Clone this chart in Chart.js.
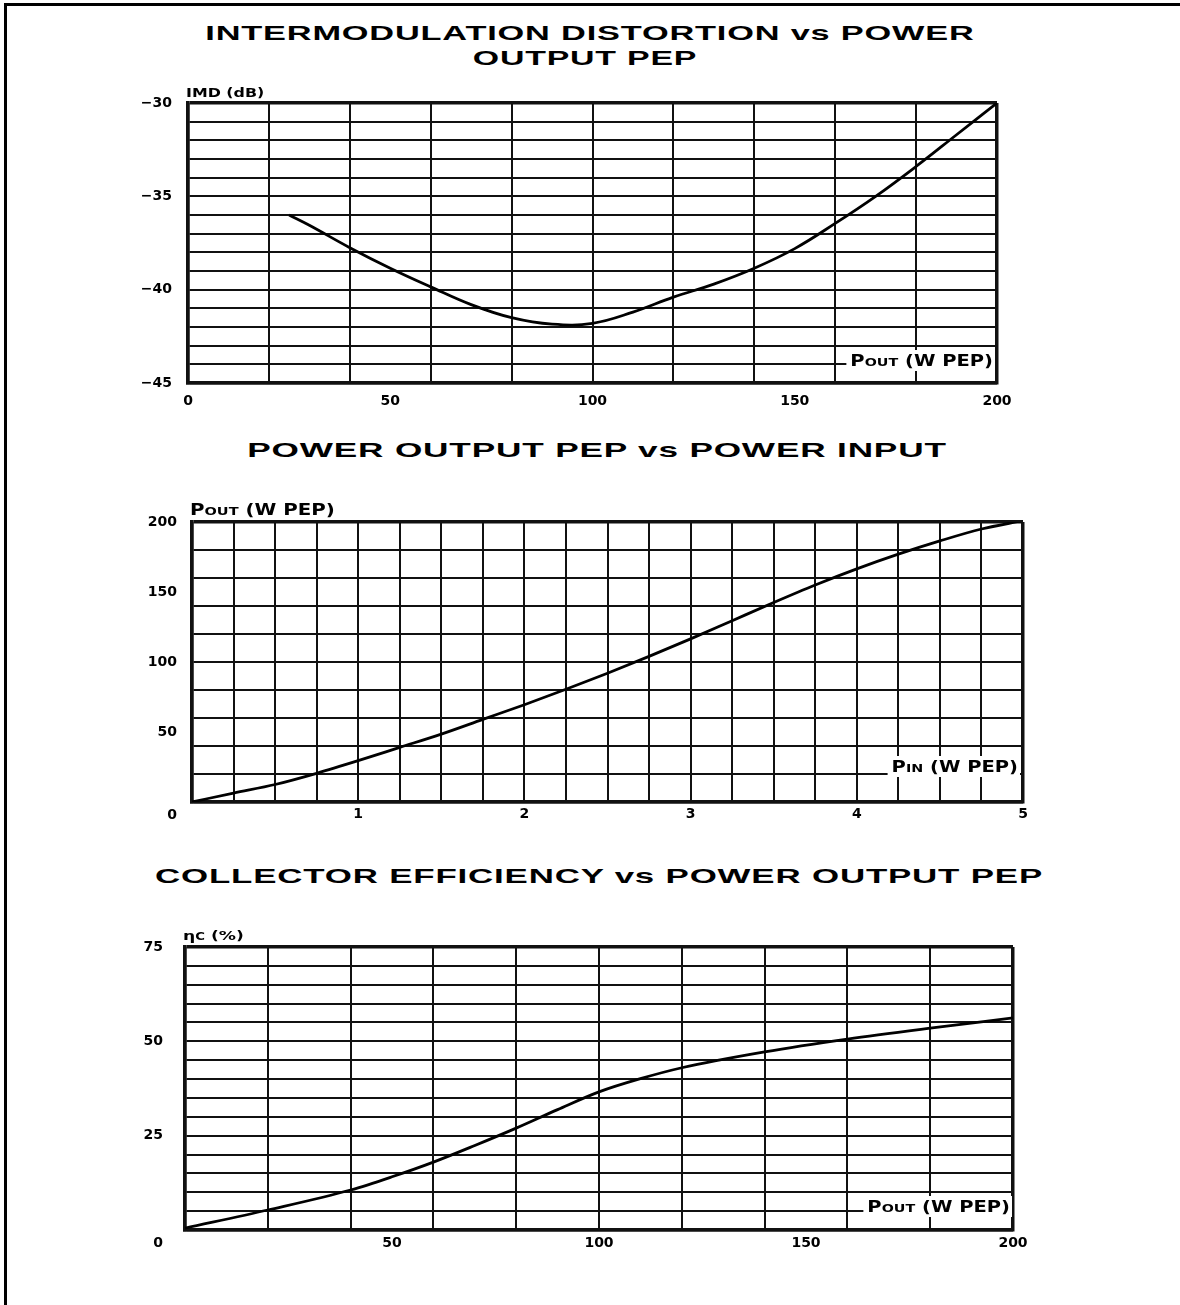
<!DOCTYPE html>
<html lang="en">
<head>
  <meta charset="UTF-8">
  <title>IMD, Power Output and Collector Efficiency</title>
  <script src="https://cdn.jsdelivr.net/npm/chart.js"></script>
  <style>
    html, body { margin: 0; padding: 0; background: #fff; overflow: hidden; }
    #sheet { position: relative; width: 1180px; height: 1305px; }
    #frame { position: absolute; left: 4px; top: 3px; width: 1300px; height: 1400px;
             border-top: 3px solid #000; border-left: 3px solid #000; }
    .title { position: absolute; white-space: nowrap; line-height: 1;
             font: bold 21px "Liberation Sans", Arial, sans-serif; letter-spacing: 0.5px; color: #000; }
    canvas { position: absolute; left: 0; }
  </style>
</head>
<body>
<div id="sheet">
  <div id="frame"></div>
  <canvas id="imdChart" width="1180" height="345" style="top:70px"></canvas>
  <canvas id="poutChart" width="1180" height="360" style="top:470px"></canvas>
  <canvas id="effChart" width="1180" height="370" style="top:895px"></canvas>
</div>

<script>
  // --- values ---
  const imdPout = [25, 30, 40, 50, 60, 70, 80, 90, 100, 110, 120, 130, 140, 150, 160, 170, 180, 190, 200];
  const imdDb = [-36.0, -36.55, -37.75, -38.85, -39.85, -40.8, -41.5, -41.85, -41.8, -41.2, -40.4, -39.7, -38.85, -37.8, -36.45, -35.0, -33.4, -31.7, -30.0];

  const pinW = [0, 0.25, 0.5, 0.75, 1, 1.25, 1.5, 1.75, 2, 2.25, 2.5, 2.75, 3, 3.25, 3.5, 3.75, 4, 4.25, 4.5, 4.75, 5];
  const poutW = [0, 6.4, 12.5, 20.5, 29.5, 39, 48.5, 59, 69.5, 80.5, 92, 104, 116.5, 129.5, 142.5, 155, 166.5, 177, 186.5, 195, 201];

  const effPout = [0, 20, 40, 50, 60, 70, 80, 90, 100, 110, 120, 140, 160, 180, 200];
  const effPct = [0.5, 5.3, 10.6, 14.1, 18, 22.4, 27, 31.9, 36.6, 40.1, 43, 47.2, 50.6, 53.5, 56.2];

  // tick labels
  const imdXLabels = [0, 50, 100, 150, 200];
  const imdYLabels = [-30, -35, -40, -45];
  const pinXLabels = [1, 2, 3, 4, 5];
  const poutYLabels = [50, 100, 150, 200];
  const effXLabels = [50, 100, 150, 200];
  const effYLabels = [25, 50, 75];

  const chartTitles = [
    'INTERMODULATION DISTORTION vs POWER',
    'OUTPUT PEP',
    'POWER OUTPUT PEP vs POWER INPUT',
    'COLLECTOR EFFICIENCY vs POWER OUTPUT PEP'
  ];

  // title placement (centre x, centre y, printed width)
  const titleBoxes = [[590, 33, 770], [585, 58, 224], [597, 450, 700], [599, 876, 888]];
  chartTitles.forEach((t, i) => {
    const d = document.createElement('div');
    d.className = 'title';
    d.textContent = t;
    document.getElementById('sheet').appendChild(d);
    const [cx, cy, w] = titleBoxes[i];
    const sx = w / d.offsetWidth;
    d.style.left = cx + 'px';
    d.style.top = cy + 'px';
    d.style.transform = `translate(-50%, -50%) scaleX(${sx})`;
  });

  const tickFont = { family: '"DejaVu Sans", sans-serif', size: 14, weight: 'bold' };

  function steps(min, max, step) {
    const out = [];
    for (let v = min; v <= max + 1e-9; v += step) out.push(+v.toFixed(4));
    return out;
  }

  function makeScale(axisId, o) {
    const grid = steps(o.min, o.max, o.step);
    const all = Array.from(new Set([...grid, ...o.labels])).sort((a, b) => a - b);
    return {
      type: 'linear',
      min: o.min,
      max: o.max,
      afterBuildTicks: s => { s.ticks = all.map(v => ({ value: v })); },
      afterFit: s => { if (axisId === 'x') s.height = o.size; else s.width = o.size; },
      ticks: {
        autoSkip: false,
        maxRotation: 0,
        padding: o.pad,
        color: '#000',
        font: tickFont,
        callback: v => o.labels.includes(v) ? (o.fmt ? o.fmt(v) : String(v)) : ''
      },
      grid: {
        drawTicks: false,
        color: c => (c.tick && grid.includes(c.tick.value)) ? '#111' : 'rgba(0,0,0,0)',
        lineWidth: c => (c.tick && (c.tick.value === o.min || c.tick.value === o.max)) ? 3.5 : 2
      },
      border: { display: true, color: '#111', width: 3.5 }
    };
  }

  function drawParts(ctx, parts, x, y, sx, align) {
    ctx.save();
    let total = 0;
    parts.forEach(p => {
      ctx.font = `bold ${p[1]}px "DejaVu Sans", sans-serif`;
      total += ctx.measureText(p[0]).width;
    });
    ctx.translate(x, y);
    ctx.scale(sx, 1);
    ctx.fillStyle = '#000';
    ctx.textBaseline = 'alphabetic';
    ctx.textAlign = 'left';
    let cur = align === 'right' ? -total : 0;
    parts.forEach(p => {
      ctx.font = `bold ${p[1]}px "DejaVu Sans", sans-serif`;
      ctx.fillText(p[0], cur, 0);
      cur += ctx.measureText(p[0]).width;
    });
    ctx.restore();
    return total * sx;
  }

  // axis captions, the boxed x caption inside the grid and the shared corner "0"
  const sheetLabels = {
    id: 'sheetLabels',
    afterDraw(chart, args, opts) {
      const { ctx, chartArea: a } = chart;
      if (opts.yTitle) drawParts(ctx, opts.yTitle, a.left - 2, a.top - opts.yGap, 1.32, 'left');
      if (opts.xTitle) {
        ctx.save();
        let w = 0;
        opts.xTitle.forEach(p => {
          ctx.font = `bold ${p[1]}px "DejaVu Sans", sans-serif`;
          w += ctx.measureText(p[0]).width;
        });
        w *= 1.3;
        const right = a.right - opts.xInset;
        const base = a.bottom - opts.xRaise;
        ctx.fillStyle = '#fff';
        ctx.fillRect(right - w - 4, base - 16, w + 6, 21);
        ctx.restore();
        drawParts(ctx, opts.xTitle, right, base, 1.3, 'right');
      }
      if (opts.corner) {
        ctx.save();
        ctx.font = `bold 14px "DejaVu Sans", sans-serif`;
        ctx.fillStyle = '#000';
        ctx.textAlign = 'right';
        ctx.textBaseline = 'middle';
        ctx.fillText('0', a.left - opts.corner[0], a.bottom + opts.corner[1]);
        ctx.restore();
      }
    }
  };

  function curve(xs, ys, smooth) {
    const ds = {
      data: xs.map((x, i) => ({ x: x, y: ys[i] })),
      borderColor: '#000',
      borderWidth: 2.8,
      pointRadius: 0,
      fill: false
    };
    if (smooth === 'monotone') ds.cubicInterpolationMode = 'monotone';
    else ds.tension = 0.4;
    return ds;
  }

  function build(id, dataset, scales, padding, labels) {
    new Chart(document.getElementById(id), {
      type: 'line',
      data: { datasets: [dataset] },
      options: {
        responsive: false,
        animation: false,
        events: [],
        layout: { padding: padding },
        plugins: { legend: { display: false }, tooltip: { enabled: false }, sheetLabels: labels },
        scales: scales
      },
      plugins: [sheetLabels]
    });
  }

  const pOut = [['P', 15], ['OUT', 11], [' (W PEP)', 15]];
  const pIn = [['P', 15], ['IN', 11], [' (W PEP)', 15]];

  build('imdChart', curve(imdPout, imdDb, 'tension'), {
    x: makeScale('x', { min: 0, max: 200, step: 20, labels: imdXLabels, pad: 10, size: 30 }),
    y: makeScale('y', { min: -45, max: -30, step: 1, labels: imdYLabels, pad: 16, size: 60,
                        fmt: v => '\u2212' + Math.abs(v) })
  }, { left: 128, right: 183, top: 33, bottom: 2 }, {
    yTitle: [['IMD (dB)', 12]], yGap: 6,
    xTitle: pOut, xInset: 4, xRaise: 17
  });

  build('poutChart', curve(pinW, poutW, 'monotone'), {
    x: makeScale('x', { min: 0, max: 5, step: 0.25, labels: pinXLabels, pad: 4, size: 25 }),
    y: makeScale('y', { min: 0, max: 200, step: 20, labels: poutYLabels, pad: 15, size: 60 })
  }, { left: 132, right: 157, top: 52, bottom: 3 }, {
    yTitle: pOut, yGap: 7,
    xTitle: pIn, xInset: 5, xRaise: 30,
    corner: [15, 13]
  });

  build('effChart', curve(effPout, effPct, 'monotone'), {
    x: makeScale('x', { min: 0, max: 200, step: 20, labels: effXLabels, pad: 5, size: 25 }),
    y: makeScale('y', { min: 0, max: 75, step: 5, labels: effYLabels, pad: 22, size: 60 })
  }, { left: 125, right: 167, top: 52, bottom: 10 }, {
    yTitle: [['\u03b7', 13], ['C', 10], [' (%)', 13]], yGap: 7,
    xTitle: pOut, xInset: 3, xRaise: 18,
    corner: [22, 13]
  });
</script>
</body>
</html>
